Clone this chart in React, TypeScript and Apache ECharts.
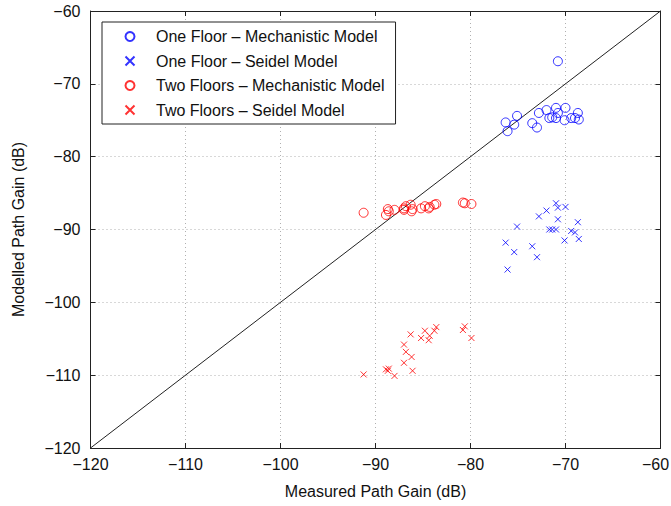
import React, { useEffect, useRef } from "react";
import * as echarts from "echarts";

const oneFloorMeasured = [-76.3, -76.1, -75.4, -75.1, -73.5, -73.0, -72.8, -72.0, -71.7, -71.4, -71.0, -71.0, -70.8, -70.8, -70.1, -70.0, -69.4, -69.0, -68.7, -68.6];
const oneFloorMech = [-75.3, -76.5, -75.6, -74.4, -75.4, -76.0, -74.0, -73.6, -74.7, -74.6, -73.3, -74.7, -74.0, -66.9, -75.0, -73.3, -74.7, -74.7, -74.0, -74.9];
const oneFloorSeidel = [-91.8, -95.5, -93.1, -89.6, -92.3, -93.8, -88.2, -87.4, -90.0, -90.0, -86.4, -90.0, -87.0, -88.6, -91.5, -86.9, -90.2, -90.4, -89.0, -91.3];

const twoFloorMeasured = [-91.25, -88.9, -88.7, -88.6, -88.0, -87.0, -87.0, -86.8, -86.3, -86.2, -86.1, -85.2, -84.8, -84.4, -84.3, -83.8, -83.6, -80.8, -80.6, -79.9];
const twoFloorMech = [-87.7, -88.0, -87.2, -87.5, -87.3, -87.1, -87.3, -86.8, -86.6, -87.5, -87.2, -87.1, -86.8, -87.1, -86.9, -86.6, -86.5, -86.3, -86.4, -86.5];
const twoFloorSeidel = [-109.9, -109.2, -109.4, -109.1, -110.1, -108.3, -105.8, -106.8, -104.4, -107.5, -109.4, -104.9, -103.9, -105.2, -104.6, -103.9, -103.4, -103.8, -103.3, -104.9];

const seriesNames = [
  "One Floor – Mechanistic Model",
  "One Floor – Seidel Model",
  "Two Floors – Mechanistic Model",
  "Two Floors – Seidel Model",
];

const axisTicks = [-120, -110, -100, -90, -80, -70, -60];

const CROSS = "path://M0,0L10,10M10,0L0,10";
const FONT = "'Liberation Sans', Arial, Helvetica, sans-serif";

function pair(xs: number[], ys: number[]) {
  return xs.map((x, i) => [x, ys[i]]);
}

const fmt = (v: number) => String(v).replace("-", "\u2212");
const fmtX = (v: number) =>
  v === axisTicks[axisTicks.length - 1] ? "{m|" + fmt(v) + "}" : fmt(v);

export default function App() {
  const ref = useRef<HTMLDivElement>(null);
  useEffect(() => {
    if (!ref.current) return;
    const chart = echarts.init(ref.current, undefined, { renderer: "svg" });
    const blue = "#0000ff";
    const red = "#ff0000";
    const axisCommon = {
      type: "value",
      min: axisTicks[0],
      max: axisTicks[axisTicks.length - 1],
      interval: 10,
    };
    const mk = (name: string, data: number[][], color: string, cross: boolean) => ({
      name,
      type: "scatter",
      data,
      symbol: cross ? CROSS : "circle",
      symbolSize: cross ? 6 : 9,
      itemStyle: { color: "transparent", borderColor: color, borderWidth: 1 },
      z: 3,
    });
    chart.setOption({
      animation: false,
      backgroundColor: "#ffffff",
      textStyle: { fontFamily: FONT },
      grid: { left: 90.5, right: 10.5, top: 11, bottom: 58, containLabel: false, outerBoundsMode: "none" },
      legend: {
        orient: "vertical",
        left: 102,
        top: 22,
        data: seriesNames,
        itemWidth: 42,
        itemHeight: 9,
        itemGap: 6.5,
        padding: [5.5, 11, 5, 22.5],
        backgroundColor: "#ffffff",
        borderColor: "#222222",
        borderWidth: 1,
        borderRadius: 0,
        textStyle: { fontSize: 16, color: "#111", lineHeight: 18, fontFamily: FONT },
      },
      xAxis: [
        {
          ...axisCommon,
          position: "bottom",
          name: "Measured Path Gain (dB)",
          nameLocation: "middle",
          nameGap: 35,
          nameTextStyle: { fontSize: 16, color: "#111", fontFamily: FONT },
          axisLine: { lineStyle: { color: "#222", width: 1 } },
          axisTick: { inside: true, length: 5, lineStyle: { color: "#222" } },
          axisLabel: {
            fontSize: 16,
            color: "#111",
            margin: 8,
            formatter: fmtX,
            fontFamily: FONT,
            rich: { m: { fontSize: 16, color: "#111", fontFamily: FONT, padding: [0, 10, 0, 0] } },
          },
          splitLine: { show: true, lineStyle: { color: "#b0b0b0", type: [1, 3], width: 1 } },
        },
        {
          ...axisCommon,
          position: "top",
          axisLine: { lineStyle: { color: "#222", width: 1 } },
          axisTick: { inside: true, length: 5, lineStyle: { color: "#222" } },
          axisLabel: { show: false },
          splitLine: { show: false },
        },
      ],
      yAxis: [
        {
          ...axisCommon,
          position: "left",
          name: "Modelled Path Gain (dB)",
          nameLocation: "middle",
          nameGap: 64,
          nameTextStyle: { fontSize: 16, color: "#111", fontFamily: FONT },
          axisLine: { lineStyle: { color: "#222", width: 1 } },
          axisTick: { inside: true, length: 5, lineStyle: { color: "#222" } },
          axisLabel: { fontSize: 16, color: "#111", margin: 10, formatter: fmt, fontFamily: FONT },
          splitLine: { show: true, lineStyle: { color: "#b0b0b0", type: [1, 3], width: 1 } },
        },
        {
          ...axisCommon,
          position: "right",
          axisLine: { lineStyle: { color: "#222", width: 1 } },
          axisTick: { inside: true, length: 5, lineStyle: { color: "#222" } },
          axisLabel: { show: false },
          splitLine: { show: false },
        },
      ],
      series: [
        {
          name: "diag",
          type: "line",
          data: [
            [axisTicks[0], axisTicks[0]],
            [axisTicks[axisTicks.length - 1], axisTicks[axisTicks.length - 1]],
          ],
          symbol: "none",
          lineStyle: { color: "#222", width: 1 },
          silent: true,
          z: 2,
        },
        mk(seriesNames[0], pair(oneFloorMeasured, oneFloorMech), blue, false),
        mk(seriesNames[1], pair(oneFloorMeasured, oneFloorSeidel), blue, true),
        mk(seriesNames[2], pair(twoFloorMeasured, twoFloorMech), red, false),
        mk(seriesNames[3], pair(twoFloorMeasured, twoFloorSeidel), red, true),
      ],
    });
    return () => chart.dispose();
  }, []);
  return (
    <div
      ref={ref}
      style={{ position: "absolute", left: 0, top: 0, width: 671, height: 506 }}
    />
  );
}
